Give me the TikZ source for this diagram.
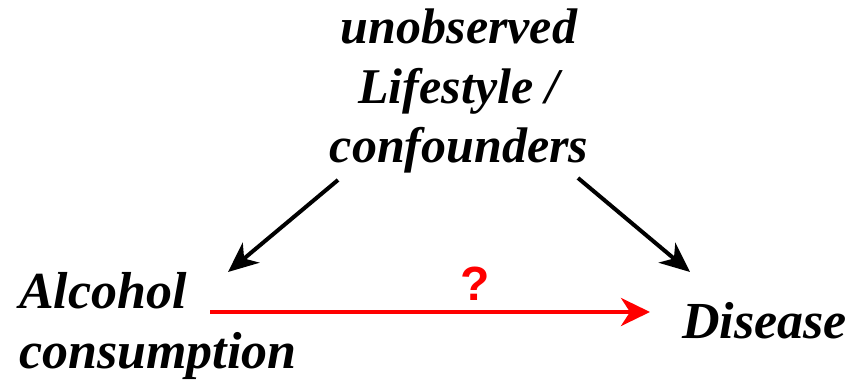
\documentclass[tikz,border=0pt]{standalone}
\usepackage{fontspec}
\setmainfont{Liberation Serif}
\newfontfamily\qfont{Liberation Sans}
\usetikzlibrary{arrows.meta}
\begin{document}
\begin{tikzpicture}[x=1pt,y=1pt,
  lbl/.style={inner sep=0pt, font=\fontsize{50}{59.5}\selectfont\bfseries\itshape},
  lblb/.style={inner sep=0pt, font=\fontsize{52}{60}\selectfont\bfseries\itshape},
  blackarrow/.style={line width=4pt, draw=black, -{Stealth[length=30pt,width=26pt,inset=9pt]}},
  redarrow/.style={line width=4pt, draw=red, -{Stealth[length=29pt,width=28pt,inset=9pt]}}]
\useasboundingbox (0,0) rectangle (850,380);
\node[lbl, align=center, anchor=north] (top) at (459,371) {unobserved\\Lifestyle /\\confounders};
\node[lblb, align=left, anchor=north west] (alc) at (19,108) {Alcohol\\consumption};
\node[lblb, anchor=base west] (dis) at (682,42) {Disease};
\node[inner sep=0pt, anchor=base, text=red, font=\fontsize{48}{58}\selectfont\qfont\bfseries] (q) at (475,80) {?};
\coordinate (tl) at (338,200);
\coordinate (tr) at (578,202);
\coordinate (al) at (228,108);
\coordinate (dl) at (690,108);
\coordinate (rs) at (210,68);
\coordinate (re) at (650,68);
\draw[blackarrow] (tl) -- (al);
\draw[blackarrow] (tr) -- (dl);
\draw[redarrow] (rs) -- (re);
\end{tikzpicture}
\end{document}
